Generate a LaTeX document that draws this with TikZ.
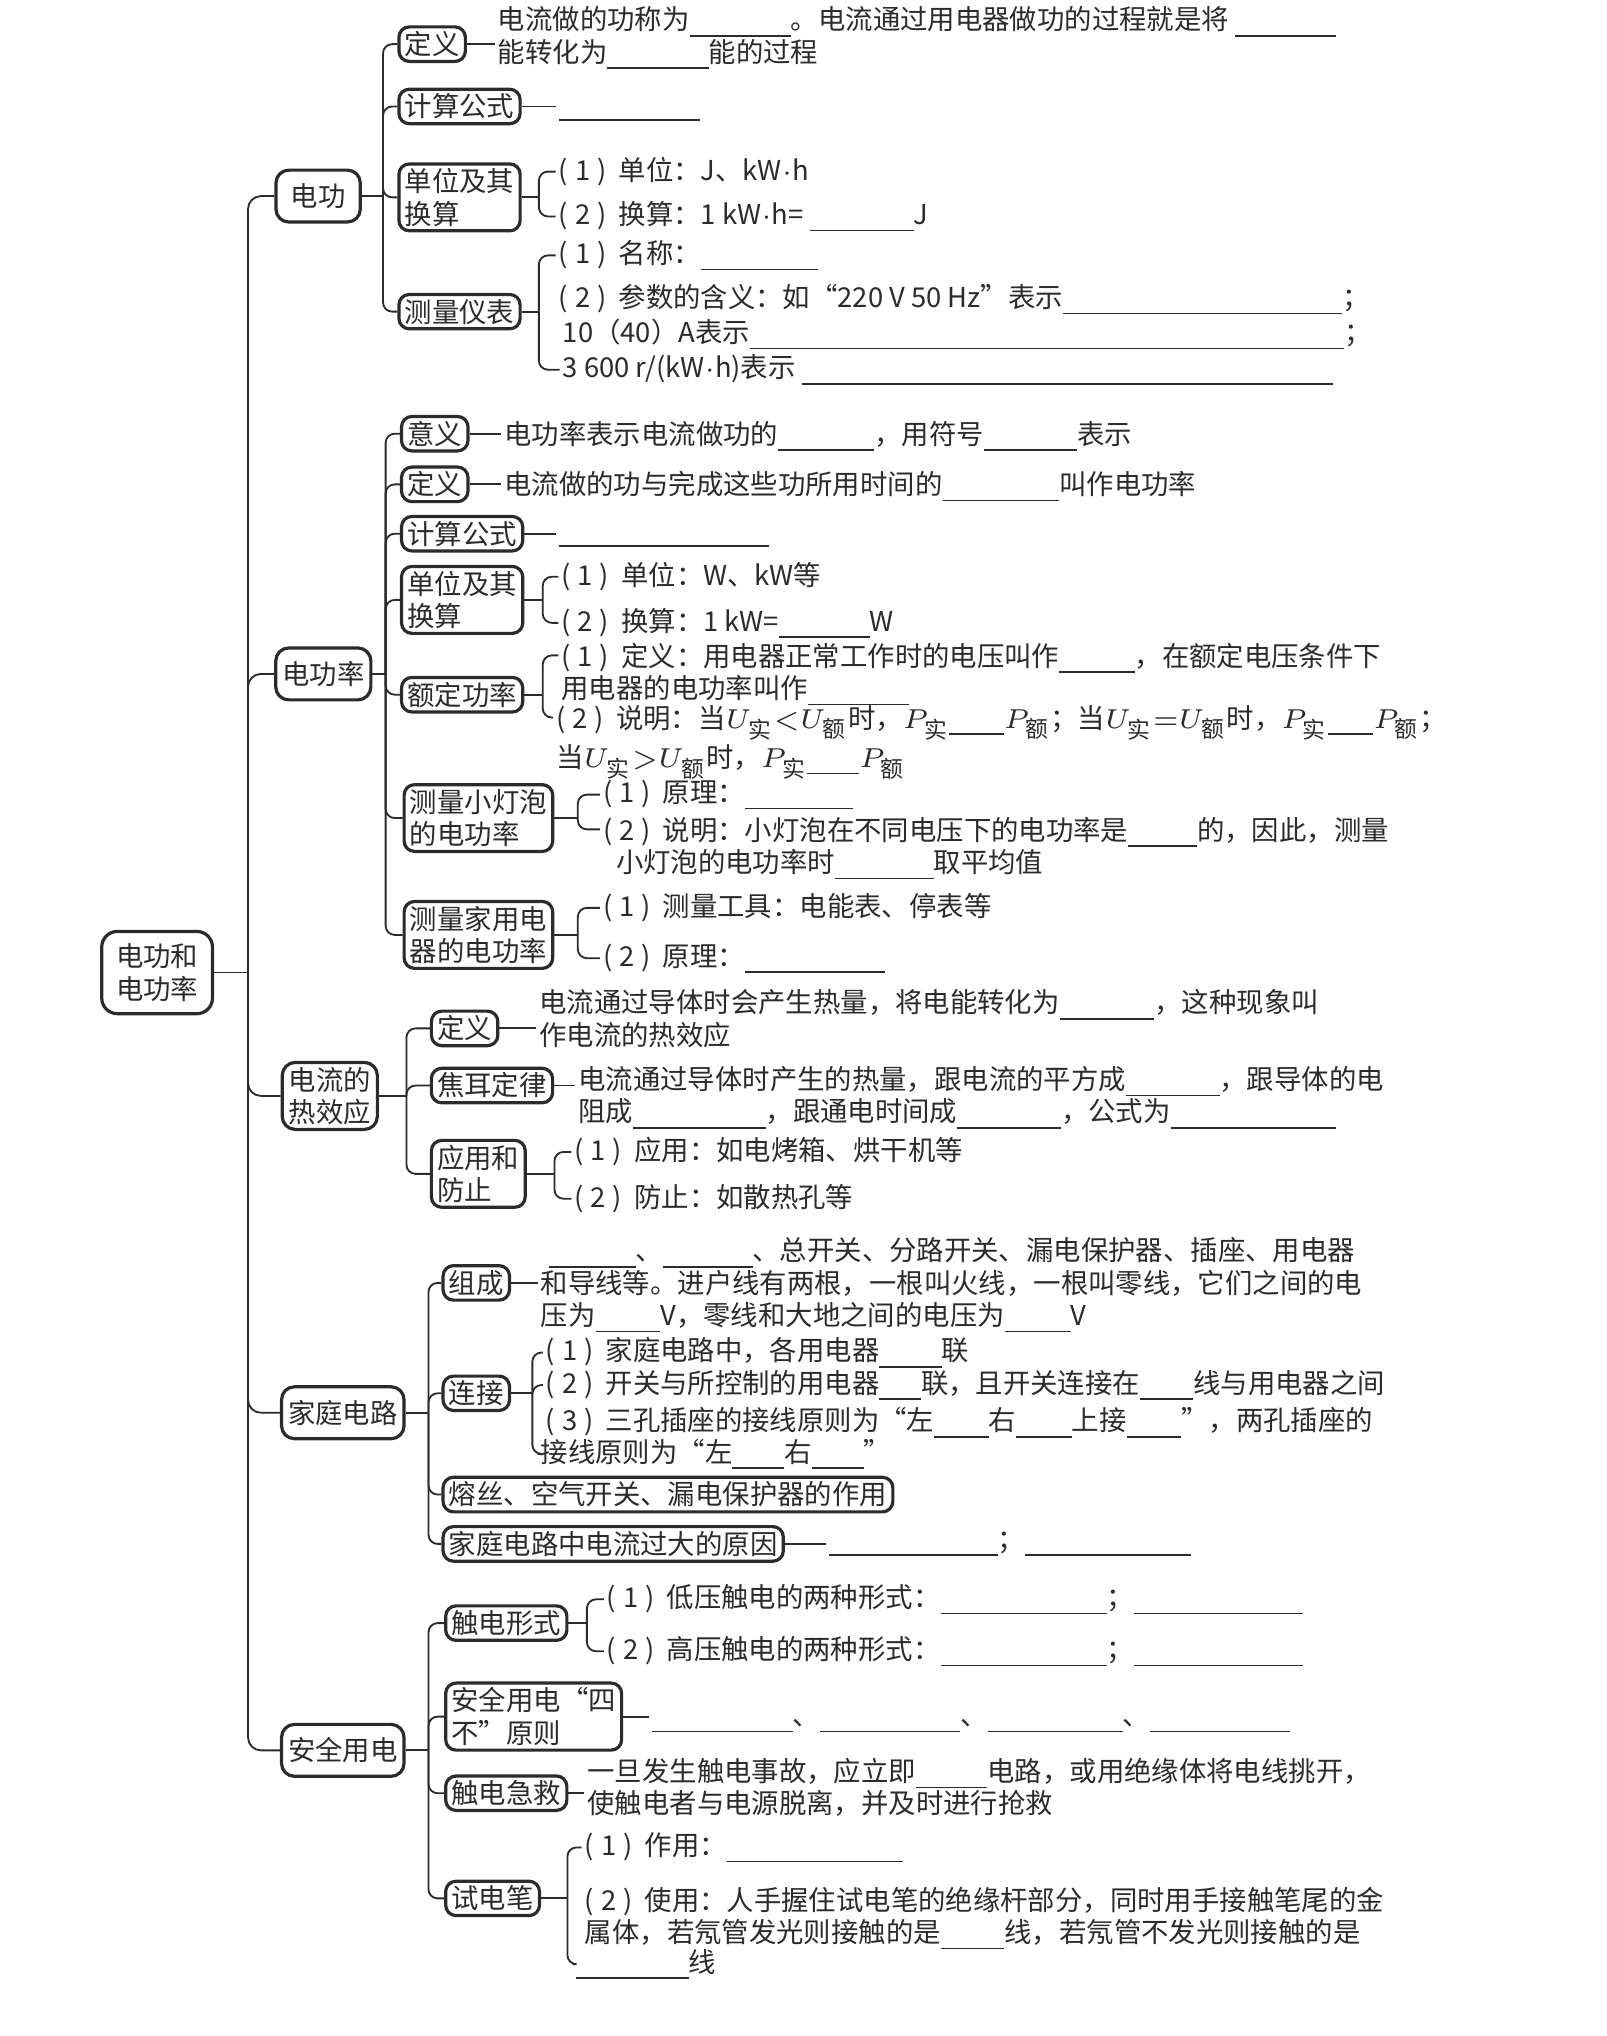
\documentclass[tikz,border=0pt]{standalone}
\usepackage{fontspec}
\usepackage{amsmath}
\setmainfont{Noto Sans CJK SC}
\definecolor{Ink}{HTML}{2B2B2B}
\setlength{\unitlength}{0.1mm}
\newcommand{\fs}{\fontsize{6pt}{7.1pt}\selectfont}
\newcommand{\blank}[1]{\rule[-0.45ex]{#1\unitlength}{0.35pt}}
\newcommand{\pitem}[1]{(\kern0.25em#1\kern0.25em)\kern0.45em}
\newcommand{\act}[1]{#1_{\text{实}}}
\newcommand{\rated}[1]{#1_{\text{额}}}
\newcommand{\kwh}{kW\ensuremath{\cdot}h}

\begin{document}
\begin{tikzpicture}[
    x=0.1mm, y=-0.1mm,
    every node/.style={font=\fs, text=Ink},
    rootbox/.style={draw=Ink, line width=0.7pt, rounded corners=1.2mm, align=center,
        inner xsep=1.1mm, inner ysep=0.95mm},
    topic/.style={draw=Ink, line width=0.7pt, rounded corners=1mm, align=center,
        minimum width=6.5mm, minimum height=4mm, inner xsep=0.5mm, inner ysep=0.35mm},
    sub/.style={draw=Ink, line width=0.7pt, rounded corners=0.8mm, align=left,
        anchor=west, inner xsep=0.45mm, inner ysep=0.35mm},
    txt/.style={anchor=base west, align=left, inner sep=0.5pt},
    link/.style={draw=Ink, line width=0.4pt, rounded corners=0.7mm},
]
\path[fill=white, use as bounding box] (0,0) rectangle (1237,1568);

% =============================================
% ROOT AND MAIN TRUNK
% =============================================
\node[rootbox] (root) at (121,749) {电功和\\电功率};
\coordinate (hub) at (191,749);

\node[topic] (dg)  at (245,151)  {电功};
\node[topic] (dgl) at (249,519)  {电功率};
\node[topic] (rx)  at (254,844)  {电流的\\热效应};
\node[topic] (jt)  at (264,1088) {家庭电路};
\node[topic] (aq)  at (264,1348) {安全用电};

\draw[link] (root.east) -- (hub);
\foreach \child in {dg, dgl, rx, jt, aq}
    \draw[link, rounded corners=1mm] (hub) |- (\child.west);

% =============================================
% 电功
% =============================================
\coordinate (dgh) at (295,151);
\draw[link] (dg.east) -- (dgh);

% multi-line texts sit on the baseline of their last line
\node[sub] (dg1) at (306,34) {定义};
\node[txt] (dg1t) at (381,48)
    {电流做的功称为\blank{78}。电流通过用电器做功的过程就是将\ \blank{78}\\能转化为\blank{78}能的过程};
\draw[link] (dg1.east) -- (dg1.east -| dg1t.west);

\node[sub] (dg2) at (306,82) {计算公式};
\node[txt] (dg2t) at (428,88) {\blank{109}};
\draw[link] (dg2.east) -- (dg2.east -| dg2t.west);

\node[sub] (dg3) at (306,152) {单位及其\\换算};
\coordinate (dg3br) at (415,152);
\node[txt] (dg3a) at (428,139) {\pitem{1}单位：J、\kwh};
\node[txt] (dg3c) at (428,173) {\pitem{2}换算：1 \kwh= \blank{80}J};
\draw[link] (dg3.east) -- (dg3br);
\draw[link] (dg3br) |- (dg3a.west);
\draw[link] (dg3br) |- (dg3c.west);

\node[sub] (dg4) at (306,240) {测量仪表};
\coordinate (dg4br) at (415,240);
\node[txt] (dg4a) at (428,203) {\pitem{1}名称：\blank{90}};
\node[txt] (dg4c) at (428,237) {\pitem{2}参数的含义：如“220 V 50 Hz”表示\blank{215}；};
\node[txt] (dg4d) at (431,264) {10（40）A表示\blank{458}；};
\node[txt] (dg4e) at (431,291) {3 600 r/(\kwh)表示\ \blank{409}};
\draw[link] (dg4.east) -- (dg4br);
\draw[link] (dg4br) |- (dg4a.west);
\draw[link] (dg4br) |- (dg4e.west);

\foreach \child in {dg1, dg2, dg3, dg4}
    \draw[link] (dgh) |- (\child.west);

% =============================================
% 电功率
% =============================================
\coordinate (dglh) at (297,519);
\draw[link] (dgl.east) -- (dglh);

\node[sub] (dgl1) at (308,334) {意义};
\node[txt] (dgl1t) at (386,342) {电功率表示电流做功的\blank{74}，用符号\blank{72}表示};
\draw[link] (dgl1.east) -- (dgl1.east -| dgl1t.west);

\node[sub] (dgl2) at (308,373) {定义};
\node[txt] (dgl2t) at (386,381) {电流做的功与完成这些功所用时间的\blank{90}叫作电功率};
\draw[link] (dgl2.east) -- (dgl2.east -| dgl2t.west);

\node[sub] (dgl3) at (308,411) {计算公式};
\node[txt] (dgl3t) at (428,416) {\blank{162}};
\draw[link] (dgl3.east) -- (dgl3.east -| dgl3t.west);

\node[sub] (dgl4) at (308,462) {单位及其\\换算};
\coordinate (dgl4br) at (418,462);
\node[txt] (dgl4a) at (430,451) {\pitem{1}单位：W、kW等};
\node[txt] (dgl4c) at (430,486) {\pitem{2}换算：1 kW=\blank{70}W};
\draw[link] (dgl4.east) -- (dgl4br);
\draw[link] (dgl4br) |- (dgl4a.west);
\draw[link] (dgl4br) |- (dgl4c.west);

\node[sub] (dgl5) at (308,535) {额定功率};
\coordinate (dgl5br) at (418,535);
\node[txt] (dgl5a) at (430,538)
    {\pitem{1}定义：用电器正常工作时的电压叫作\blank{58}，在额定电压条件下\\用电器的电功率叫作\blank{78}};
\node[txt] (dgl5c) at (426,591)
    {\pitem{2}说明：当$\act{U}{<}\rated{U}$时，$\act{P}$\blank{42}$\rated{P}$；当$\act{U}{=}\rated{U}$时，$\act{P}$\blank{35}$\rated{P}$；\\当$\act{U}{>}\rated{U}$时，$\act{P}$\blank{40}$\rated{P}$};
\draw[link] (dgl5.east) -- (dgl5br);
\draw[link] (dgl5br) |- ([yshift=-1.2mm]dgl5a.north west);
\draw[link] (dgl5br) |- ([yshift=-1.2mm]dgl5c.north west);

\node[sub] (dgl6) at (310,630) {测量小灯泡\\的电功率};
\coordinate (dgl6br) at (445,630);
\node[txt] (dgl6a) at (462,618) {\pitem{1}原理：\blank{83}};
\node[txt] (dgl6c) at (462,672)
    {\pitem{2}说明：小灯泡在不同电压下的电功率是\blank{53}的，因此，测量\\\hspace{10\unitlength}小灯泡的电功率时\blank{76}取平均值};
\draw[link] (dgl6.east) -- (dgl6br);
\draw[link] (dgl6br) |- (dgl6a.west);
\draw[link] (dgl6br) |- ([yshift=-1.2mm]dgl6c.north west);

\node[sub] (dgl7) at (310,720) {测量家用电\\器的电功率};
\coordinate (dgl7br) at (445,720);
\node[txt] (dgl7a) at (462,706) {\pitem{1}测量工具：电能表、停表等};
\node[txt] (dgl7c) at (462,744) {\pitem{2}原理：\blank{108}};
\draw[link] (dgl7.east) -- (dgl7br);
\draw[link] (dgl7br) |- (dgl7a.west);
\draw[link] (dgl7br) |- (dgl7c.west);

\foreach \child in {dgl1, dgl2, dgl3, dgl4, dgl5, dgl6, dgl7}
    \draw[link] (dglh) |- (\child.west);

% =============================================
% 电流的热效应
% =============================================
\coordinate (rxh) at (313,844);
\draw[link] (rx.east) -- (rxh);

\node[sub] (rx1) at (331,792) {定义};
\node[txt] (rx1t) at (413,805)
    {电流通过导体时会产生热量，将电能转化为\blank{73}，这种现象叫\\作电流的热效应};
\draw[link] (rx1.east) -- (rx1.east -| rx1t.west);

\node[sub] (rx2) at (331,836) {焦耳定律};
\node[txt] (rx2t) at (443,864)
    {电流通过导体时产生的热量，跟电流的平方成\blank{72}，跟导体的电\\阻成\blank{102}，跟通电时间成\blank{80}，公式为\blank{127}};
\draw[link] (rx2.east) -- (rx2.east -| rx2t.west);

\node[sub] (rx3) at (331,904) {应用和\\防止};
\coordinate (rx3br) at (427,904);
\node[txt] (rx3a) at (440,894) {\pitem{1}应用：如电烤箱、烘干机等};
\node[txt] (rx3c) at (440,930) {\pitem{2}防止：如散热孔等};
\draw[link] (rx3.east) -- (rx3br);
\draw[link] (rx3br) |- (rx3a.west);
\draw[link] (rx3br) |- (rx3c.west);

\foreach \child in {rx1, rx2, rx3}
    \draw[link] (rxh) |- (\child.west);

% =============================================
% 家庭电路
% =============================================
\coordinate (jth) at (330,1088);
\draw[link] (jt.east) -- (jth);

\node[sub] (jt1) at (340,988) {组成};
\node[txt] (jt1t) at (414,1021)
    {\hspace{6\unitlength}\blank{67}、\blank{69}、总开关、分路开关、漏电保护器、插座、用电器\\和导线等。进户线有两根，一根叫火线，一根叫零线，它们之间的电\\压为\blank{50}V，零线和大地之间的电压为\blank{51}V};
\draw[link] (jt1.east) -- (jt1.east -| jt1t.west);

\node[sub] (jt2) at (340,1073) {连接};
\coordinate (jt2br) at (410,1073);
\node[txt] (jt2a) at (418,1048) {\pitem{1}家庭电路中，各用电器\blank{48}联};
\node[txt] (jt2b) at (418,1073) {\pitem{2}开关与所控制的用电器\blank{32}联，且开关连接在\blank{41}线与用电器之间};
\node[txt] (jt2c) at (418,1102) {\pitem{3}三孔插座的接线原则为“左\blank{42}右\blank{43}上接\blank{42}”，两孔插座的};
\node[txt] (jt2d) at (414,1126) {接线原则为“左\blank{40}右\blank{40}”};
\draw[link] (jt2.east) -- (jt2br);
\draw[link] (jt2br) |- (jt2a.west);
\draw[link] (jt2br) |- (jt2b.west);
\draw[link] (jt2br) |- (jt2d.west);

\node[sub] (jt3) at (340,1151) {熔丝、空气开关、漏电保护器的作用};

\node[sub] (jt4) at (340,1189) {家庭电路中电流过大的原因};
\node[txt] (jt4t) at (636,1193) {\blank{130}；\blank{128}};
\draw[link] (jt4.east) -- (jt4.east -| jt4t.west);

\foreach \child in {jt1, jt2, jt3, jt4}
    \draw[link] (jth) |- (\child.west);

% =============================================
% 安全用电
% =============================================
\coordinate (aqh) at (330,1348);
\draw[link] (aq.east) -- (aqh);

\node[sub] (aq1) at (342,1250) {触电形式};
\coordinate (aq1br) at (452,1250);
\node[txt] (aq1a) at (465,1238) {\pitem{1}低压触电的两种形式：\blank{128}；\blank{130}};
\node[txt] (aq1c) at (465,1278) {\pitem{2}高压触电的两种形式：\blank{128}；\blank{130}};
\draw[link] (aq1.east) -- (aq1br);
\draw[link] (aq1br) |- (aq1a.west);
\draw[link] (aq1br) |- (aq1c.west);

\node[sub] (aq2) at (342,1322) {安全用电“四\\不”原则};
\node[txt] (aq2t) at (500,1329) {\blank{108}、\blank{108}、\blank{104}、\blank{108}};
\draw[link] (aq2.east) -- (aq2.east -| aq2t.west);

\node[sub] (aq3) at (342,1381) {触电急救};
\node[txt] (aq3t) at (450,1397)
    {一旦发生触电事故，应立即\blank{55}电路，或用绝缘体将电线挑开，\\使触电者与电源脱离，并及时进行抢救};
\draw[link] (aq3.east) -- (aq3.east -| aq3t.west);

\node[sub] (aq4) at (342,1462) {试电笔};
\coordinate (aq4br) at (437,1462);
\node[txt] (aq4a) at (448,1429) {\pitem{1}作用：\blank{136}};
\node[txt] (aq4c) at (448,1496)
    {\pitem{2}使用：人手握住试电笔的绝缘杆部分，同时用手接触笔尾的金\\属体，若氖管发光则接触的是\blank{49}线，若氖管不发光则接触的是};
\node[txt] (aq4d) at (441,1519) {\blank{87}线};
\draw[link] (aq4.east) -- (aq4br);
\draw[link] (aq4br) |- (aq4a.west);
\draw[link] (aq4br) |- (aq4d.west);

\foreach \child in {aq1, aq2, aq3, aq4}
    \draw[link] (aqh) |- (\child.west);

\end{tikzpicture}
\end{document}
